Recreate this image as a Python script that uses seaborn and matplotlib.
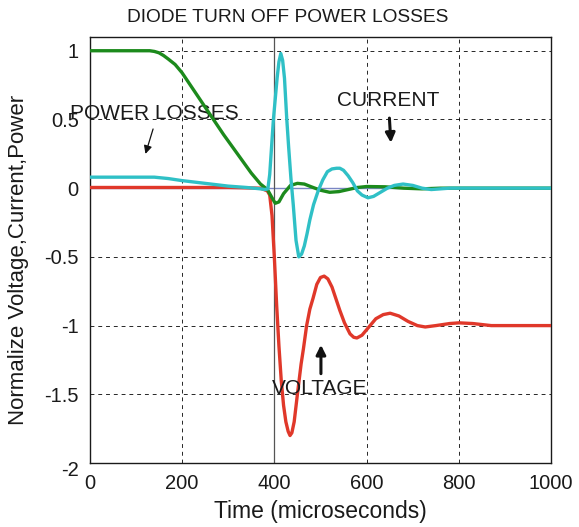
import matplotlib
matplotlib.use("Agg")
import matplotlib.pyplot as plt
import matplotlib.transforms as mtransforms
import seaborn as sns
import numpy as np

# ---- data ----
t_green = [0, 50, 100, 130, 140, 150, 160, 170, 185, 200, 230, 260, 290, 320, 350, 370, 385,
           395, 402, 410, 420, 435, 450, 465, 480, 500, 520, 540, 560, 580, 600, 640, 680,
           720, 760, 800, 1000]
y_green = [1, 1, 1, 1, 0.995, 0.985, 0.965, 0.94, 0.9, 0.84, 0.69, 0.54, 0.39, 0.25, 0.11,
           0.03, -0.01, -0.07, -0.11, -0.10, -0.04, 0.02, 0.035, 0.03, 0.01, -0.015, -0.03,
           -0.025, -0.01, 0.005, 0.012, 0.01, 0.0, -0.005, 0.0, 0.0, 0.0]

t_cyan = [0, 50, 100, 140, 170, 200, 250, 300, 340, 370, 380, 386, 390, 394, 398, 402, 406,
          410, 414, 418, 422, 427, 431, 436, 441, 447, 453, 459, 465, 471, 477, 485, 495, 505,
          515, 525, 535, 542, 550, 560, 570, 580, 590, 603, 615, 630, 645, 660, 679, 700, 720,
          740, 760, 780, 800, 850, 900, 1000]
y_cyan = [0.08, 0.08, 0.08, 0.08, 0.07, 0.055, 0.035, 0.015, 0.005, -0.005, -0.01, -0.005,
          0.1, 0.3, 0.5, 0.65, 0.8, 0.92, 0.98, 0.93, 0.8, 0.5, 0.3, 0.07, -0.12, -0.38, -0.5,
          -0.48, -0.42, -0.33, -0.23, -0.12, -0.02, 0.06, 0.12, 0.14, 0.145, 0.145, 0.13, 0.09,
          0.04, -0.02, -0.05, -0.07, -0.06, -0.03, 0.0, 0.02, 0.03, 0.02, 0.0, -0.01, -0.005,
          0.0, 0.0, 0.0, 0.0, 0.0]

t_red = [0, 100, 200, 300, 370, 385, 390, 395, 400, 405, 410, 415, 420, 425, 430, 434, 438,
         443, 450, 458, 463, 470, 477, 484, 492, 500, 508, 516, 525, 533, 542, 552, 564, 572,
         579, 590, 605, 620, 636, 651, 670, 690, 710, 727, 750, 780, 800, 830, 870, 1000]
y_red = [0.005, 0.005, 0.005, 0.005, 0.0, -0.02, -0.05, -0.2, -0.5, -0.85, -1.15, -1.4, -1.58,
         -1.7, -1.77, -1.8, -1.78, -1.7, -1.5, -1.28, -1.17, -1.0, -0.88, -0.8, -0.7, -0.65,
         -0.64, -0.66, -0.72, -0.8, -0.89, -0.98, -1.06, -1.085, -1.09, -1.07, -1.01, -0.95,
         -0.92, -0.91, -0.93, -0.97, -1.0, -1.01, -1.0, -0.985, -0.98, -0.985, -1.0, -1.0]

x_ticks = [0, 200, 400, 600, 800, 1000]
y_ticks = [-2, -1.5, -1, -0.5, 0, 0.5, 1]
y_tick_labels = ["-2", "-1.5", "-1", "-0.5", "0", "0.5", "1"]

sns.set_style("white")
plt.rcParams['font.family'] = ['Liberation Sans', 'DejaVu Sans']

fig = plt.figure(figsize=(5.79, 5.27), dpi=100)
ax = fig.add_axes([0.155, 0.1214, 0.797, 0.8084])

ax.axhline(0, color="#7a86c4", lw=1.0, zorder=1)
ax.axvline(400, color="#555555", lw=0.9, zorder=1)

sns.lineplot(x=t_red, y=y_red, ax=ax, color="#e0382a", lw=2.4, sort=False, zorder=3)
sns.lineplot(x=t_green, y=y_green, ax=ax, color="#1c8a1c", lw=2.4, sort=False, zorder=4)
sns.lineplot(x=t_cyan, y=y_cyan, ax=ax, color="#2fc0c6", lw=2.4, sort=False, zorder=5)

ax.set_xlim(0, 1000)
ax.set_ylim(-2, 1.1)
ax.set_xticks(x_ticks)
ax.set_xticklabels([str(v) for v in x_ticks])
ax.set_yticks(y_ticks)
ax.set_yticklabels(y_tick_labels)
ax.grid(True, color="black", linestyle=(0, (4, 4)), lw=0.7, alpha=0.85)
ax.tick_params(direction="in", length=0, labelsize=14.5, colors="#1a1a1a", pad=8)
for s in ax.spines.values():
    s.set_color("#1a1a1a")
    s.set_linewidth(1.0)

# MATLAB-style: lowest y tick label sits slightly below the axis corner
lbl = ax.get_yticklabels()[0]
lbl.set_transform(lbl.get_transform() + mtransforms.ScaledTranslation(0, -5 / 100, fig.dpi_scale_trans))

fig.text(288 / 579, 1 - 18 / 527, "DIODE TURN OFF POWER LOSSES", fontsize=13.8,
         ha="center", va="center", color="#1a1a1a")
ax.set_xlabel("Time (microseconds)", fontsize=16.5, color="#1a1a1a", labelpad=5)
ax.set_ylabel("Normalize Voltage,Current,Power", fontsize=16, color="#1a1a1a")
ax.yaxis.set_label_coords(-0.132, 0.477)

ax.text(141, 0.545, "POWER LOSSES", fontsize=15, ha="center", va="center", color="#1a1a1a", clip_on=False)
ax.text(646, 0.64, "CURRENT", fontsize=15, ha="center", va="center", color="#1a1a1a")
ax.text(499, -1.455, "VOLTAGE", fontsize=15, ha="center", va="center", color="#1a1a1a")

ax.annotate("", xy=(119, 0.23), xytext=(139, 0.45),
            arrowprops=dict(arrowstyle="-|>", color="#111111", lw=0.9, mutation_scale=12))
ax.annotate("", xy=(653, 0.31), xytext=(649, 0.53),
            arrowprops=dict(arrowstyle="-|>", color="#111111", lw=2.2, mutation_scale=14))
ax.annotate("", xy=(501, -1.12), xytext=(501, -1.37),
            arrowprops=dict(arrowstyle="-|>", color="#111111", lw=2.2, mutation_scale=14))

fig.savefig("out.png", dpi=100)
